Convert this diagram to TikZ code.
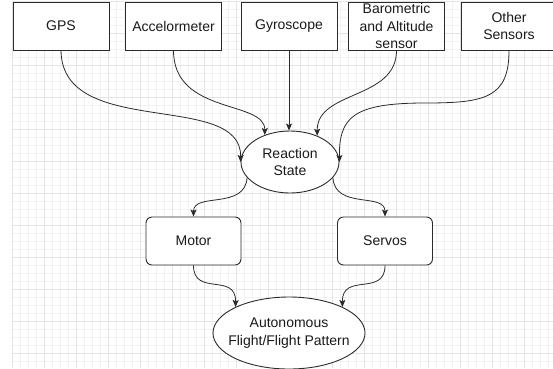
\documentclass[tikz,border=0pt]{standalone}
\usepackage{fontspec}
\setmainfont{Liberation Sans}
\usetikzlibrary{shapes.geometric,arrows.meta}

\definecolor{inkline}{HTML}{2B2B2B}
\definecolor{inktext}{HTML}{1A1A1A}
\definecolor{gridminor}{HTML}{F2F2F2}
\definecolor{gridmajor}{HTML}{E4E4E4}

\tikzset{
  lbl/.style={font=\fontsize{14}{17.5}\selectfont, text=inktext, align=center},
  sensorbox/.style={lbl, draw=inkline, fill=white, line width=0.9pt,
    rectangle, minimum width=96pt, minimum height=48pt, inner sep=0pt},
  actbox/.style={sensorbox, rounded corners=6pt, minimum width=95pt},
  stateoval/.style={lbl, draw=inkline, fill=white, line width=0.9pt,
    ellipse, inner xsep=-14pt, inner ysep=-4pt},
  flow/.style={draw=inkline, line width=0.8pt,
    -{Stealth[length=7pt,width=6pt,inset=1.5pt]}},
}

\begin{document}
\begin{tikzpicture}[x=1pt,y=-1pt]
  \useasboundingbox (0,0) rectangle (553,368);
  \clip (0,0) rectangle (553,368);

  % background grid: fine lines every 8, heavier every 32
  \foreach \gx in {12.5,20.5,...,553} \draw[gridminor, line width=0.6pt] (\gx,1) -- (\gx,368);
  \foreach \gy in {1,9,...,368} \draw[gridminor, line width=0.6pt] (12.5,\gy) -- (553,\gy);
  \foreach \gx in {12.5,44.5,...,553} \draw[gridmajor, line width=0.7pt] (\gx,1) -- (\gx,368);
  \foreach \gy in {1,33,...,368} \draw[gridmajor, line width=0.7pt] (12.5,\gy) -- (553,\gy);

  % sensors
  \node[sensorbox] (gps)   at (61,26)    {GPS};
  \node[sensorbox] (acc)   at (173.5,26) {Accelormeter};
  \node[sensorbox] (gyro)  at (289,26)   {Gyroscope};
  \node[sensorbox] (baro)  at (396.5,26) {Barometric\\and Altitude\\sensor};
  \node[sensorbox] (other) at (509,26)   {Other\\Sensors};

  % state and actuators
  \node[stateoval, minimum width=98pt, minimum height=62pt] (react) at (290,162) {Reaction\\State};
  \node[actbox] (motor) at (193.5,241) {Motor};
  \node[actbox] (servo) at (385,241)   {Servos};
  \node[stateoval, minimum width=152pt, minimum height=72pt] (auto) at (289,333) {Autonomous\\Flight/Flight Pattern};

  % sensor inputs
  \draw[flow] (gps.south) .. controls (62,140) and (242,90) .. (react.west);
  \draw[flow] (acc.south) .. controls (173.5,115) and (265,100) .. (react.133);
  \draw[flow] (gyro.south) -- (react.north -| gyro.south);
  \draw[flow] (baro.south) .. controls (396.5,100) and (317,90) .. (react.44);
  \draw[flow] (other.south) .. controls (509,98) and (485,103) .. (425,103)
                            .. controls (352,103) and (339,118) .. (react.east);

  % state to actuators
  \draw[flow] (react.200) .. controls (245,210) and (193.5,192) .. (motor.north);
  \draw[flow] (react.340) .. controls (335,210) and (385,192) .. (servo.north);

  % actuators to outcome
  \draw[flow] (motor.south) .. controls (193.5,297) and (236,272) .. (auto.154);
  \draw[flow] (servo.south) .. controls (385,297) and (342,272) .. (auto.26);
\end{tikzpicture}
\end{document}
